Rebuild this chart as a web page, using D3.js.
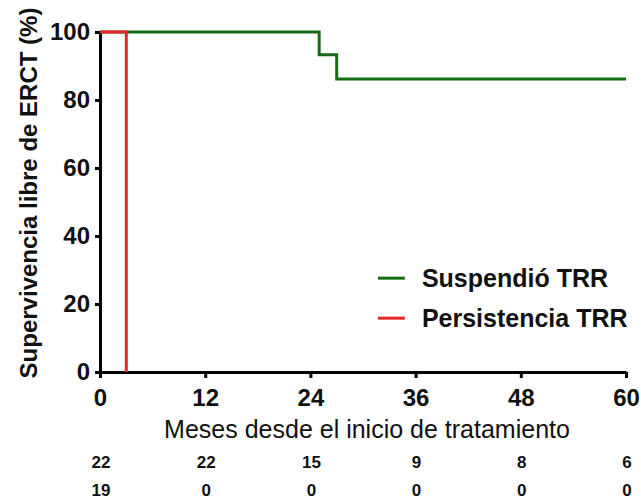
<!DOCTYPE html>
<html>
<head>
<meta charset="utf-8">
<script src="https://cdn.jsdelivr.net/npm/d3@7"></script>
<style>
  body { margin: 0; background: #fff; }
  svg { font-family: 'Liberation Sans', Arial, sans-serif; }
</style>
</head>
<body>
<div id="chart"></div>
<script>
// Kaplan-Meier steps: [month, survival %]
const suspendioSteps = [[0, 100], [25, 100], [25, 93.3], [27, 93.3], [27, 86.2], [60, 86.2]]
const persistenciaSteps = [[0, 100], [3, 100], [3, 0]]
const xTickValues = [0, 12, 24, 36, 48, 60]
const yTickValues = [0, 20, 40, 60, 80, 100]
const atRiskSuspendio = [22, 22, 15, 9, 8, 6]
const atRiskPersistencia = [19, 0, 0, 0, 0, 0]
const seriesNames = ['Suspendió TRR', 'Persistencia TRR']

const width = 641
const height = 499
const margin = { top: 32, right: 15, bottom: 127, left: 100 }
const chartWidth = width - margin.left - margin.right
const chartHeight = height - margin.top - margin.bottom

const colors = {
  suspendio: '#176b17',
  persistencia: '#e8232a'
}

const svg = d3.select('#chart')
  .append('svg')
  .attr('width', width)
  .attr('height', height)

const g = svg.append('g')
  .attr('transform', `translate(${margin.left},${margin.top})`)

const xScale = d3.scaleLinear().domain([0, 60]).range([0, chartWidth])
const yScale = d3.scaleLinear().domain([0, 100]).range([chartHeight, 0])

const line = d3.line()
  .x((d) => xScale(d[0]))
  .y((d) => yScale(d[1]))

g.append('path')
  .attr('d', line(suspendioSteps))
  .attr('fill', 'none')
  .attr('stroke', colors.suspendio)
  .attr('stroke-width', 3)

const xAxis = d3.axisBottom(xScale)
  .tickValues(xTickValues)
  .tickSize(6)
  .tickPadding(11)
  .tickSizeOuter(0)

const yAxis = d3.axisLeft(yScale)
  .tickValues(yTickValues)
  .tickSize(5)
  .tickPadding(5)
  .tickSizeOuter(0)

const xg = g.append('g')
  .attr('transform', `translate(0,${chartHeight})`)
  .call(xAxis)

const yg = g.append('g').call(yAxis)

for (const ax of [xg, yg]) {
  ax.select('.domain').attr('stroke', '#000').attr('stroke-width', 3)
  ax.selectAll('.tick line').attr('stroke', '#000').attr('stroke-width', 3)
  ax.selectAll('.tick text')
    .attr('fill', '#111')
    .style('font-size', '24px')
    .style('font-weight', 'bold')
}

g.append('path')
  .attr('d', line(persistenciaSteps))
  .attr('fill', 'none')
  .attr('stroke', colors.persistencia)
  .attr('stroke-width', 3)

// axis titles
g.append('text')
  .attr('x', chartWidth / 2 + 4)
  .attr('y', chartHeight + 66)
  .attr('text-anchor', 'middle')
  .style('font-size', '25px')
  .attr('fill', '#111')
  .text('Meses desde el inicio de tratamiento')

svg.append('text')
  .attr('transform', 'translate(37,193) rotate(-90)')
  .attr('text-anchor', 'middle')
  .style('font-size', '24px')
  .style('font-weight', 'bold')
  .attr('fill', '#111')
  .text('Supervivencia libre de ERCT (%)')

// numbers at risk
const riskRows = [atRiskSuspendio, atRiskPersistencia]
riskRows.forEach((row, r) => {
  g.append('g')
    .selectAll('text')
    .data(row)
    .enter()
    .append('text')
    .attr('x', (d, i) => xScale(xTickValues[i]) + 1)
    .attr('y', chartHeight + 96 + r * 28)
    .attr('text-anchor', 'middle')
    .style('font-size', '17px')
    .style('font-weight', 'bold')
    .attr('fill', '#111')
    .text((d) => d)
})

// legend
const legend = g.append('g')
  .attr('transform', `translate(${xScale(31.7)},${yScale(27.6)})`)

const legendItems = legend.selectAll('.serie')
  .data([colors.suspendio, colors.persistencia])
  .enter()
  .append('g')
  .attr('transform', (d, i) => `translate(0,${i * 40})`)

legendItems.append('line')
  .attr('x1', 0)
  .attr('x2', 27)
  .attr('stroke', (d) => d)
  .attr('stroke-width', 3)

legendItems.append('text')
  .attr('x', 44)
  .attr('y', 9)
  .style('font-size', '25px')
  .style('font-weight', 'bold')
  .attr('fill', '#111')
  .text((d, i) => seriesNames[i])
</script>
</body>
</html>
